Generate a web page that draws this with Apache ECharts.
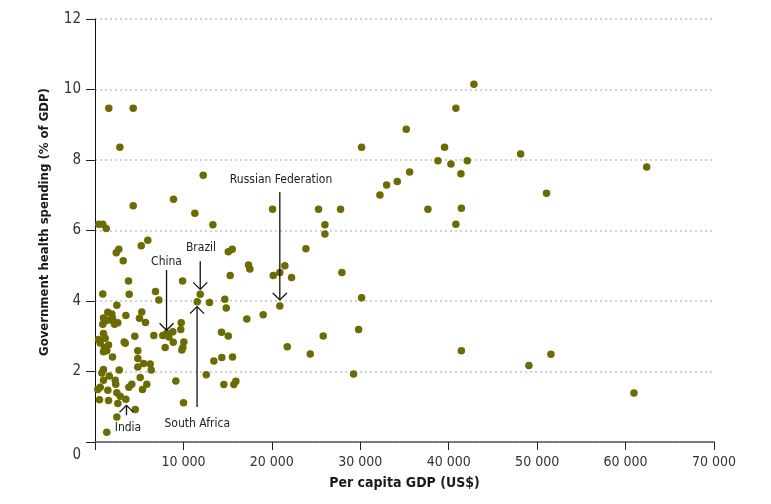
<!DOCTYPE html>
<html>
<head>
<meta charset="utf-8">
<script src="https://cdn.jsdelivr.net/npm/echarts@6/dist/echarts.min.js"></script>
<style>
html,body{margin:0;padding:0;background:#fff;}
#chart{width:771px;height:504px;}
</style>
</head>
<body>
<div id="chart"></div>
<script>
// Per capita GDP (US$)
const gdp = [
  1560, 4320, 2810, 12240, 4320, 8880, 11290, 430, 880, 1270, 2690, 2400, 3190, 5230, 5970,
  3790, 9900, 880, 3870, 6840, 7220, 2470,
  1450, 1900, 960, 1150, 1980, 1610, 2580, 2210, 880, 3490, 5290, 5030, 5710, 3300, 3420,
  960, 1150, 400, 590, 1530, 1070, 1330, 1980, 960, 4840, 4840, 4840, 5490, 6240, 6360,
  2740, 960, 770, 1610, 2290, 2350, 5110, 960, 590, 320, 4160, 5860, 5370, 1450, 2470,
  2850, 3490, 510, 1530, 2580, 4550, 2470, 1330, 4500, 3830,
  6650, 7670, 8090, 8800, 8350, 7940, 8850,
  9750, 9700, 10050, 9930, 9820, 9140, 10010,
  11900, 11560, 12950, 14680, 14840, 17170, 19020, 20900, 14310, 15070, 21740, 13440,
  14340, 15550, 12580, 14570, 15700, 15930, 13330, 20080, 25280, 27770, 23850, 15070,
  15520, 17360, 17510, 21470, 20900, 20160, 22230, 15290, 26000, 26000, 27920, 30150,
  29810, 25810, 24340, 29240,
  42850, 40810, 35200, 30150, 39530, 48130, 38780, 40250, 42100, 35580, 34180, 32980,
  32220, 41380, 62390, 51060, 37650, 41430, 40810, 41430, 49070, 51560, 60950
];
// Government health spending (% of GDP)
const spending = [
  9.47, 9.47, 8.36, 7.57, 6.70, 6.89, 6.49, 6.18, 6.18, 6.06, 5.47, 5.37, 5.14, 5.57, 5.72,
  4.57, 4.57, 4.20, 4.19, 4.27, 4.03, 3.88,
  3.68, 3.63, 3.52, 3.43, 3.51, 3.46, 3.38, 3.34, 3.34, 3.59, 3.69, 3.51, 3.39, 2.84, 2.80,
  3.08, 2.94, 2.91, 2.81, 2.75, 2.68, 2.59, 2.41, 2.56, 2.59, 2.37, 2.13, 2.23, 2.21, 2.04,
  2.04, 2.06, 1.96, 1.87, 1.75, 1.64, 1.83, 1.75, 1.55, 1.49, 1.64, 1.64, 1.49, 1.47, 1.40,
  1.30, 1.21, 1.20, 1.18, 1.09, 0.92, 0.71, 0.28, 3.00, 1.55,
  3.02, 3.02, 3.08, 3.13, 2.98, 2.68, 2.83,
  3.38, 3.19, 2.84, 2.68, 2.61, 1.73, 1.11,
  4.19, 3.98, 3.96, 4.05, 3.80, 3.49, 3.61, 3.86, 3.11, 3.01, 2.70, 2.30,
  2.40, 2.41, 1.91, 1.63, 1.63, 1.72, 6.16, 6.60, 6.60, 6.60, 5.48, 5.40,
  5.47, 5.02, 4.91, 5.00, 4.81, 4.72, 4.67, 4.72, 6.16, 5.90, 4.81, 4.09,
  3.19, 3.01, 2.50, 1.93,
  10.15, 9.47, 8.87, 8.36, 8.36, 8.17, 7.98, 7.89, 7.98, 7.66, 7.39, 7.29,
  7.01, 7.61, 7.80, 7.06, 6.60, 6.63, 6.18, 2.59, 2.17, 2.49, 1.39
];
// Annotations (in data units)
const annoLabels = ['Russian Federation', 'Brazil', 'China', 'South Africa', 'India'];
const annoTextX  = [21040, 11990, 8090, 11560, 3730];
const annoTextY  = [7.45, 5.50, 5.11, 0.52, 0.41];
const arrowX     = [20900, 11900, 8090, 11540, 3560];
const arrowFromY = [7.09, 5.13, 4.88, 0.99, 0.76];
const arrowToY   = [4.03, 4.33, 3.17, 3.84, 1.04];

const xTicks = [0, 10000, 20000, 30000, 40000, 50000, 60000, 70000];
const yTicks = [0, 2, 4, 6, 8, 10, 12];

const FONT = "'DejaVu Sans Condensed', 'Liberation Sans', sans-serif";

const points = gdp.map((g, i) => [g, spending[i]]);
const annoData = annoLabels.map((l, i) => [annoTextX[i], annoTextY[i], arrowX[i], arrowFromY[i], arrowToY[i]]);

function fmtThousands(v) {
  return String(v).replace(/\B(?=(\d{3})+(?!\d))/g, ' ');
}

const chart = echarts.init(document.getElementById('chart'), null, {renderer: 'canvas'});
chart.setOption({
  animation: false,
  backgroundColor: '#ffffff',
  grid: {left: 95, right: 57, top: 19, bottom: 62, containLabel: false},
  xAxis: {
    type: 'value',
    min: xTicks[0], max: xTicks[xTicks.length - 1], interval: 10000,
    name: 'Per capita GDP (US$)',
    nameLocation: 'middle',
    nameGap: 34,
    nameTextStyle: {fontFamily: FONT, fontSize: 14, fontWeight: 'bold', color: '#1a1a1a'},
    axisLine: {show: true, onZero: false, lineStyle: {color: '#555', width: 1.5}},
    axisTick: {show: true, length: 8, lineStyle: {color: '#222', width: 1}},
    axisLabel: {
      margin: 13, fontFamily: FONT, fontSize: 14, color: '#333',
      formatter: v => v === 0 ? '' : fmtThousands(v)
    },
    splitLine: {show: false}
  },
  yAxis: {
    type: 'value',
    min: yTicks[0], max: yTicks[yTicks.length - 1], interval: 2,
    name: 'Government health spending (% of GDP)',
    nameLocation: 'middle',
    nameGap: 44,
    nameTextStyle: {fontFamily: FONT, fontSize: 13, fontWeight: 'bold', color: '#1a1a1a', padding: [0, 0, 0, 17]},
    axisLine: {show: true, lineStyle: {color: '#111', width: 1}},
    axisTick: {show: true, length: 9, lineStyle: {color: '#222', width: 1}},
    axisLabel: {
      margin: 14, fontFamily: FONT, fontSize: 15, color: '#333',
      formatter: v => v === 0 ? '{z|0}' : String(v),
      rich: {z: {fontFamily: FONT, fontSize: 15, color: '#333', padding: [26, 0, 0, 0]}}
    },
    splitLine: {show: true, lineStyle: {color: '#c4c4c4', width: 1.5, type: [2, 3]}}
  },
  series: [
    {
      type: 'scatter',
      data: points,
      symbol: 'circle',
      symbolSize: 7.5,
      itemStyle: {color: '#6b6b00', opacity: 1},
      z: 3
    },
    {
      type: 'custom',
      data: annoData,
      z: 4,
      silent: true,
      renderItem: function (params, api) {
        const i = params.dataIndex;
        const t = api.coord([api.value(0), api.value(1)]);
        const a = api.coord([api.value(2), api.value(3)]);
        const b = api.coord([api.value(2), api.value(4)]);
        const dx = b[0] - a[0], dy = b[1] - a[1];
        const len = Math.sqrt(dx * dx + dy * dy) || 1;
        const ux = dx / len, uy = dy / len;
        const px = -uy, py = ux;
        const L = 7, W = 7;
        const p1 = [b[0] - ux * L + px * W, b[1] - uy * L + py * W];
        const p2 = [b[0] - ux * L - px * W, b[1] - uy * L - py * W];
        return {
          type: 'group',
          children: [
            {type: 'line', shape: {x1: a[0], y1: a[1], x2: b[0], y2: b[1]},
             style: {stroke: '#111', lineWidth: 1.3}},
            {type: 'polyline', shape: {points: [p1, b, p2]},
             style: {stroke: '#111', lineWidth: 1.3, fill: null}},
            {type: 'text', x: t[0], y: t[1],
             style: {text: annoLabels[i], font: "12px " + FONT, fill: '#222',
                     align: 'center', verticalAlign: 'middle'}}
          ]
        };
      }
    }
  ]
});
</script>
</body>
</html>
